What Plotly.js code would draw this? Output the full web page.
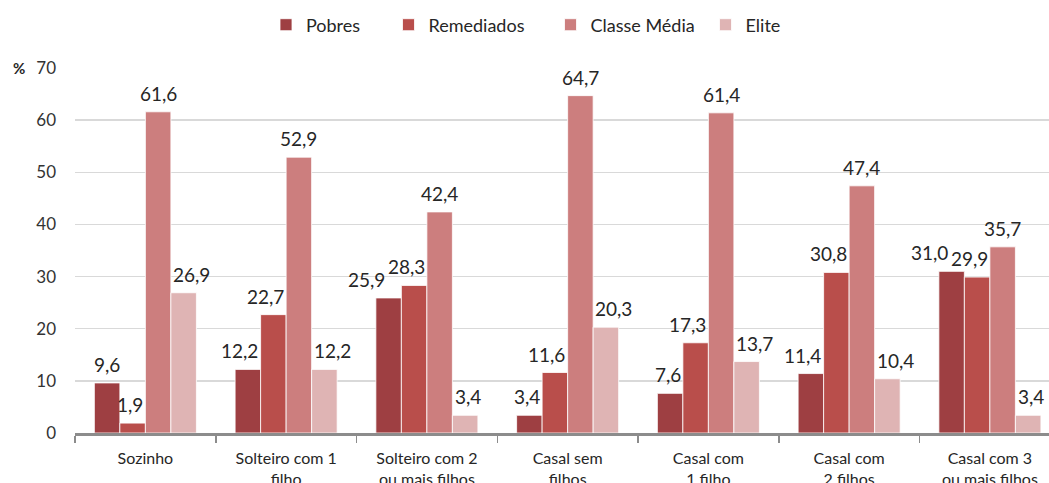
<!DOCTYPE html>
<html>
<head>
<meta charset="utf-8">
<script src="https://cdn.plot.ly/plotly-3.0.1.min.js"></script>
<style>html,body{margin:0;padding:0;background:#fff;}#chart{width:1049px;height:483px;}</style>
</head>
<body>
<div id="chart"></div>
<script>
const categories = ["Sozinho", "Solteiro com 1<br>filho", "Solteiro com 2<br>ou mais filhos", "Casal sem<br>filhos", "Casal com<br>1 filho", "Casal com<br>2 filhos", "Casal com 3<br>ou mais filhos"];
const seriesNames = ["Pobres", "Remediados", "Classe Média", "Elite"];
const pobres = [9.6, 12.2, 25.9, 3.4, 7.6, 11.4, 31.0];
const remediados = [1.9, 22.7, 28.3, 11.6, 17.3, 30.8, 29.9];
const classeMedia = [61.6, 52.9, 42.4, 64.7, 61.4, 47.4, 35.7];
const elite = [26.9, 12.2, 3.4, 20.3, 13.7, 10.4, 3.4];
const yTicks = [0, 10, 20, 30, 40, 50, 60, 70];

const colors = ["#9E3F42", "#B94E4B", "#CC7E7E", "#DFB4B4"];
const FONT = "Lato, 'Open Sans', sans-serif";
const allSeries = [pobres, remediados, classeMedia, elite];
const fmt = v => v.toFixed(1).replace(".", ",");

// geometry (used only to keep value labels clear of neighbouring bars)
const W = 1049, H = 483, M = {l: 75, r: 0, t: 68, b: 50};
const xRange = [-0.5, 6.42], yRange = [0, 70];
const bargap = 0.275;
const plotW = W - M.l - M.r, plotH = H - M.t - M.b;
const catW = plotW / (xRange[1] - xRange[0]);
const bw = catW * (1 - bargap) / 4;
const pxPerUnit = plotH / (yRange[1] - yRange[0]);
const LBL_SIZE = 19, LBL_PAD = 10, LBL_H = 17, GAP = 2;

const cv = document.createElement("canvas").getContext("2d");
cv.font = LBL_SIZE + "px Lato";
const tw = s => cv.measureText(s).width;

const annotations = [];
categories.forEach((cat, g) => {
  const vals = allSeries.map(s => s[g]);
  const labs = vals.map((v, i) => {
    const t = fmt(v);
    return {i, t, w: tw(t), c: (i - 1.5) * bw, h: v * pxPerUnit, shift: 0};
  });
  // keep each label clear of taller neighbouring bars
  labs.forEach(L => {
    let lo = -Infinity, hi = Infinity;
    labs.forEach(B => {
      if (B.i === L.i) return;
      if (B.h > L.h + LBL_PAD) {
        if (B.i > L.i) hi = Math.min(hi, (B.c - bw / 2) - L.w / 2 - L.c - GAP);
        else lo = Math.max(lo, (B.c + bw / 2) + L.w / 2 - L.c + GAP);
      }
    });
    let s = 0;
    if (lo > hi) s = hi; else s = Math.min(Math.max(0, lo), hi);
    L.shift = s;
  });
  // keep labels clear of each other (push left ones further left)
  for (let a = labs.length - 2; a >= 0; a--) {
    const L = labs[a];
    for (let k = a + 1; k < labs.length; k++) {
      const R = labs[k];
      const vOver = Math.abs(L.h - R.h) < LBL_H;
      const lRight = L.c + L.shift + L.w / 2;
      const rLeft = R.c + R.shift - R.w / 2;
      if (vOver && lRight > rLeft - GAP) L.shift -= (lRight - rLeft + GAP);
    }
  }
  labs.forEach(L => {
    annotations.push({
      x: cat, y: vals[L.i], xref: "x", yref: "y",
      text: L.t, showarrow: false,
      xanchor: "center", yanchor: "bottom",
      xshift: L.c + L.shift, yshift: 5,
      font: {family: FONT, size: LBL_SIZE, color: "#262626"}
    });
  });
});

annotations.push({
  text: "<b>%</b>", xref: "paper", yref: "y", x: -0.058, y: 70,
  xanchor: "center", yanchor: "middle", showarrow: false,
  font: {family: FONT, size: 15, color: "#262626"}
});

const legendKeys = ["legend", "legend2", "legend3", "legend4"];
const legendMarkerX = [288, 410.5, 572.5, 727.5];

const traces = allSeries.map((vals, i) => ({
  type: "bar",
  name: seriesNames[i],
  x: categories,
  y: vals,
  legend: legendKeys[i],
  marker: {color: colors[i], line: {color: "#ffffff", width: 0.8}},
  hoverinfo: "x+y+name"
}));

const layout = {
  width: W, height: H,
  margin: {l: M.l, r: M.r, t: M.t, b: M.b, autoexpand: false},
  paper_bgcolor: "#fff", plot_bgcolor: "#fff",
  barmode: "group",
  bargap: bargap,
  bargroupgap: 0,
  showlegend: true,
  xaxis: {
    type: "category",
    range: xRange,
    showline: true, linecolor: "#8C8C8C", linewidth: 2.5,
    ticks: "outside", tickson: "boundaries", ticklen: 7, tickcolor: "#8C8C8C", tickwidth: 1.5,
    ticklabelstandoff: 9,
    tickfont: {family: FONT, size: 16, color: "#262626"},
    showgrid: false, zeroline: false, fixedrange: true
  },
  yaxis: {
    range: yRange,
    tickvals: yTicks,
    ticktext: yTicks.map(String),
    showgrid: true, gridcolor: "#D9D9D9", gridwidth: 1.5,
    zeroline: false, showline: false,
    ticks: "", ticklabelstandoff: 18,
    tickfont: {family: FONT, size: 17, color: "#333333"},
    fixedrange: true
  },
  annotations: annotations
};
legendKeys.forEach((k, i) => {
  layout[k] = {
    orientation: "h",
    xref: "container", yref: "container",
    x: (legendMarkerX[i] - 22) / W, xanchor: "left",
    y: 1 - 25 / H, yanchor: "middle",
    font: {family: FONT, size: 18, color: "#262626"},
    bgcolor: "rgba(0,0,0,0)"
  };
});

Plotly.newPlot("chart", traces, layout, {displayModeBar: false, staticPlot: true});
</script>
</body>
</html>
